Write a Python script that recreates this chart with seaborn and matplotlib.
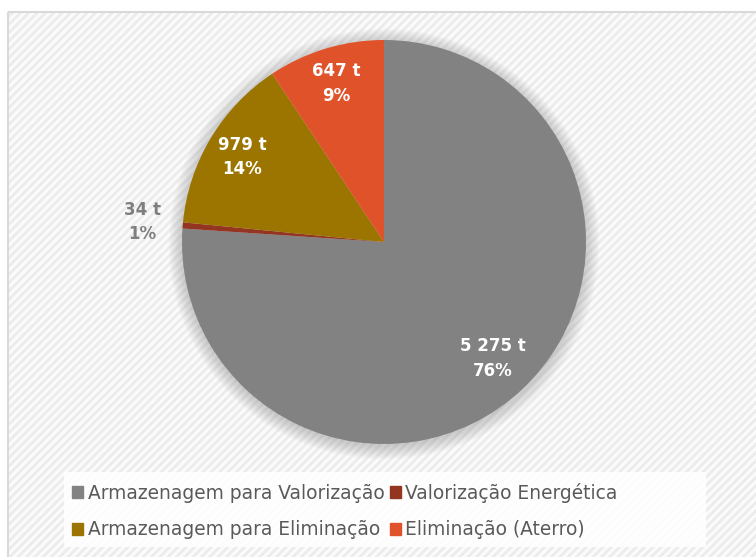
import numpy as np
import matplotlib
matplotlib.use("Agg")
import matplotlib.pyplot as plt
import matplotlib.patches as mpatches
import seaborn as sns

categories = ["Armazenagem para Valorização", "Valorização Energética",
              "Armazenagem para Eliminação", "Eliminação (Aterro)"]
values = [5275, 34, 979, 647]
value_labels = ["5 275 t", "34 t", "979 t", "647 t"]
pct_labels = ["76%", "1%", "14%", "9%"]
colors = ["#828282", "#943522", "#9C7500", "#E0522A"]
label_colors = ["white", "#7f7f7f", "white", "white"]

sns.set_theme(style="white")
plt.rcParams["font.family"] = ["DejaVu Sans"]

W, H = 756, 557
fig = plt.figure(figsize=(W / 100, H / 100), dpi=100)
fig.patch.set_facecolor("white")

# background chart area with diagonal hatch
bg = fig.add_axes([0, 0, 1, 1])
bg.set_xlim(0, W)
bg.set_ylim(H, 0)
bg.axis("off")
plt.rcParams["hatch.linewidth"] = 2.0
bg.add_patch(mpatches.Rectangle((7, 11), W, H, facecolor="#fbfbfb",
                                edgecolor="#ececec", hatch="////", lw=0))
bg.add_patch(mpatches.Rectangle((7.5, 11.5), W + 10, H + 10, facecolor="none",
                                edgecolor="#d9d9d9", lw=1.5))
# legend background
bg.add_patch(mpatches.Rectangle((64, 472), 642, 75, facecolor="white",
                                edgecolor="none", alpha=0.85))

cx, cy, r = 384, 242, 202
ax = fig.add_axes([(cx - r) / W, (H - cy - r) / H, 2 * r / W, 2 * r / H])

# soft shadow
for k in range(12):
    ax.add_patch(mpatches.Circle((0, -0.01), 1.0 + 0.006 * k, facecolor="#808080",
                                 edgecolor="none", alpha=0.035, zorder=0,
                                 clip_on=False))

wedges, _ = ax.pie(values, colors=colors, startangle=90, counterclock=False,
                   radius=1.0, wedgeprops=dict(linewidth=0))
for w in wedges:
    w.set_zorder(2)
ax.set_xlim(-1, 1)
ax.set_ylim(-1, 1)
ax.set_aspect("equal")
ax.axis("off")

dists = [0.79, 1.2, 0.82, 0.82]
for w, vl, pl, lc, d in zip(wedges, value_labels, pct_labels, label_colors, dists):
    ang = np.deg2rad((w.theta1 + w.theta2) / 2)
    x, y = d * np.cos(ang), d * np.sin(ang)
    ax.text(x, y, f"{vl}\n{pl}", ha="center", va="center", color=lc,
            fontsize=12, fontweight="bold", linespacing=1.45, zorder=5,
            clip_on=False)

handles = [mpatches.Patch(color=c) for c in colors]
order = [0, 2, 1, 3]
leg = fig.legend([handles[i] for i in order], [categories[i] for i in order],
                 ncol=2, loc="center", bbox_to_anchor=(345 / W, 1 - 511 / H),
                 frameon=False, fontsize=13.4, handlelength=0.6, handleheight=0.6,
                 handletextpad=0.25, columnspacing=0.25, labelspacing=0.95,
                 labelcolor="#595959")

fig.savefig("out.png", dpi=100, facecolor="white")
